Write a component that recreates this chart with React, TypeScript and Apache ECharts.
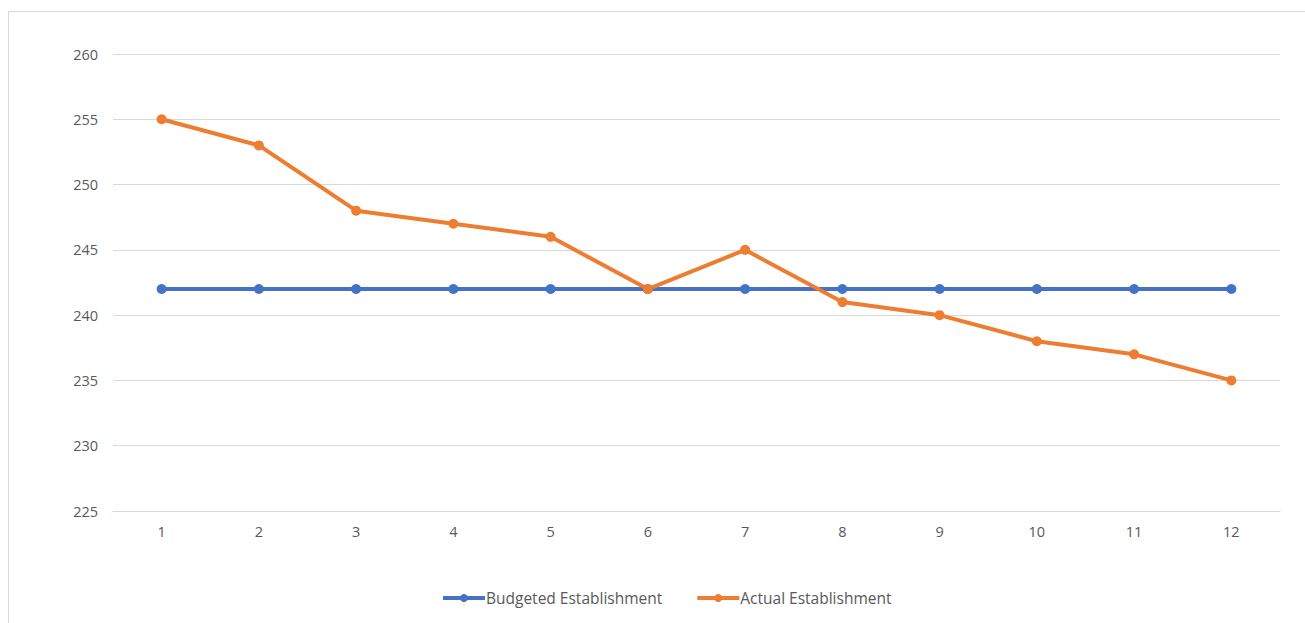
import React, { useEffect, useRef } from "react";
import * as echarts from "echarts";

const categories = ["1", "2", "3", "4", "5", "6", "7", "8", "9", "10", "11", "12"];
const budgeted = [242, 242, 242, 242, 242, 242, 242, 242, 242, 242, 242, 242];
const actual = [255, 253, 248, 247, 246, 242, 245, 241, 240, 238, 237, 235];
const yMin = 225;
const yMax = 260;
const yStep = 5;

export default function App() {
  const ref = useRef<HTMLDivElement>(null);
  useEffect(() => {
    if (!ref.current) return;
    const chart = echarts.init(ref.current, null, { renderer: "svg" });
    const font = "'Open Sans', 'Noto Sans', sans-serif";
    chart.setOption({
      animation: false,
      backgroundColor: "#ffffff",
      textStyle: { fontFamily: font },
      graphic: [
        {
          type: "rect",
          shape: { x: 8.5, y: 11.5, width: 1310, height: 620 },
          style: { fill: "none", stroke: "#d9d9d9", lineWidth: 1 },
          silent: true,
        },
      ],
      grid: { left: 113, right: 25, top: 54, bottom: 112 },
      xAxis: {
        type: "category",
        data: categories,
        boundaryGap: true,
        axisLine: { show: true, lineStyle: { color: "#d9d9d9", width: 1 } },
        axisTick: { show: false },
        axisLabel: { color: "#595959", fontSize: 14.5, margin: 13, fontFamily: font },
      },
      yAxis: {
        type: "value",
        min: yMin,
        max: yMax,
        interval: yStep,
        axisLine: { show: false },
        axisTick: { show: false },
        splitLine: { lineStyle: { color: "#d9d9d9", width: 1 } },
        axisLabel: { color: "#595959", fontSize: 14.5, margin: 15, fontFamily: font },
      },
      legend: {
        bottom: 12,
        left: 436,
        itemWidth: 42,
        itemHeight: 10,
        itemGap: 33,
        lineStyle: { width: 4 },
        textStyle: { color: "#595959", fontSize: 15.5, fontFamily: font, padding: [0, 0, 0, -4] },
        data: ["Budgeted Establishment", "Actual Establishment"],
      },
      series: [
        {
          name: "Budgeted Establishment",
          type: "line",
          data: budgeted,
          symbol: "circle",
          symbolSize: 10,
          lineStyle: { color: "#4472C4", width: 4 },
          itemStyle: { color: "#4472C4" },
        },
        {
          name: "Actual Establishment",
          type: "line",
          data: actual,
          symbol: "circle",
          symbolSize: 10,
          lineStyle: { color: "#ED7D31", width: 4 },
          itemStyle: { color: "#ED7D31" },
        },
      ],
    });
    return () => chart.dispose();
  }, []);
  return (
    <div
      ref={ref}
      style={{ position: "absolute", left: 0, top: 0, width: 1305, height: 623 }}
    />
  );
}
